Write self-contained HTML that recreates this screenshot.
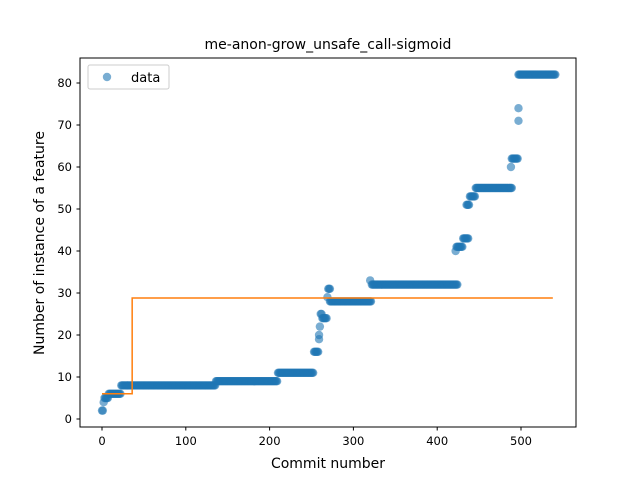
<!DOCTYPE html>
<html><head><meta charset="utf-8"><style>
body{margin:0;background:#fff}
svg text{font-family:"DejaVu Sans","Liberation Sans",sans-serif;fill:#000}
</style></head><body>
<svg id="chart" width="640" height="480" viewBox="0 0 640 480">
<rect width="640" height="480" fill="#fff"/>
<text x="328" y="49" font-size="14" text-anchor="middle">me-anon-grow_unsafe_call-sigmoid</text>
<g id="grid"></g>
<g id="marks"></g>
<rect x="80" y="58" width="496" height="369" fill="none" stroke="#000" stroke-width="1"/>
<text x="328" y="468" font-size="14" text-anchor="middle">Commit number</text>
<text transform="translate(44,243) rotate(-90)" font-size="14" text-anchor="middle">Number of instance of a feature</text>
<g>
<rect x="88" y="65" width="81" height="24" rx="2" fill="#fff" fill-opacity="0.8" stroke="#ccc"/>
<circle cx="107" cy="77" r="4.2" fill="#1f77b4" fill-opacity="0.6"/>
<text x="131" y="82" font-size="13">data</text>
</g>
</svg>
<script>
// data as runs: start index, end index (inclusive), value
const runStarts = [0, 2, 3, 8, 23, 136, 210, 253, 259, 259, 260, 261, 263, 269, 270, 272, 320, 322, 422, 423, 431, 435, 439, 446, 488, 489, 497, 497, 497];
const runEnds   = [1, 2, 7, 22, 135, 209, 252, 258, 259, 259, 260, 262, 268, 269, 272, 321, 320, 424, 422, 430, 437, 438, 445, 489, 488, 496, 497, 497, 541];
const runValues = [2, 4, 5, 6, 8, 9, 11, 16, 19, 20, 22, 25, 24, 29, 31, 28, 33, 32, 40, 41, 43, 51, 53, 55, 60, 62, 71, 74, 82];
const fitX = [0, 36, 36, 538];
const fitY = [6, 6, 28.8, 28.8];
const xTicks = [0, 100, 200, 300, 400, 500];
const yTicks = [0, 10, 20, 30, 40, 50, 60, 70, 80];

const NS = "http://www.w3.org/2000/svg";
const xs = v => 102 + v * 0.838;
const ys = v => 419 - v * 4.2;
const svg = document.getElementById('chart');
const grid = document.getElementById('grid');
const marks = document.getElementById('marks');

xTicks.forEach(t => {
  const l = document.createElementNS(NS, 'line');
  l.setAttribute('x1', xs(t)); l.setAttribute('x2', xs(t));
  l.setAttribute('y1', 427); l.setAttribute('y2', 430.5);
  l.setAttribute('stroke', '#000');
  
  
  grid.appendChild(l);
  const tx = document.createElementNS(NS, 'text');
  tx.setAttribute('x', xs(t)); tx.setAttribute('y', 445);
  tx.setAttribute('font-size', '11.5'); tx.setAttribute('text-anchor', 'middle');
  tx.textContent = t;
  
  
  grid.appendChild(tx);
});
yTicks.forEach(t => {
  const l = document.createElementNS(NS, 'line');
  l.setAttribute('x1', 76.5); l.setAttribute('x2', 80);
  l.setAttribute('y1', ys(t)); l.setAttribute('y2', ys(t));
  l.setAttribute('stroke', '#000');
  
  
  grid.appendChild(l);
  const tx = document.createElementNS(NS, 'text');
  tx.setAttribute('x', 72); tx.setAttribute('y', ys(t) + 4);
  tx.setAttribute('font-size', '11.5'); tx.setAttribute('text-anchor', 'end');
  tx.textContent = t;
  
  
  grid.appendChild(tx);
});

runStarts.forEach((s, k) => {
  for (let i = s; i <= runEnds[k]; i++) {
    const c = document.createElementNS(NS, 'circle');
    c.setAttribute('cx', xs(i)); c.setAttribute('cy', ys(runValues[k]));
    c.setAttribute('r', 4.2);
    c.setAttribute('fill', '#1f77b4'); c.setAttribute('fill-opacity', '0.6');
    
    
    marks.appendChild(c);
  }
});

const p = document.createElementNS(NS, 'polyline');
p.setAttribute('points', fitX.map((x, i) => xs(x) + ',' + ys(fitY[i])).join(' '));
p.setAttribute('fill', 'none'); p.setAttribute('stroke', '#ff7f0e'); p.setAttribute('stroke-width', '1.5');


marks.appendChild(p);
</script>
</body></html>
